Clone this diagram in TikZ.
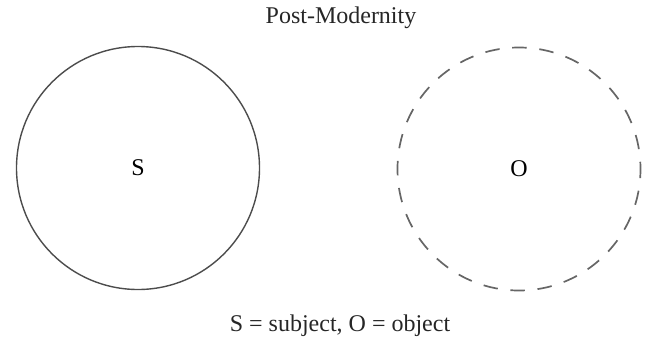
\documentclass[tikz,border=0pt]{standalone}
\usepackage{fontspec}
\setmainfont{Liberation Serif}
\usetikzlibrary{positioning}

\begin{document}
\begin{tikzpicture}[
    x=1pt, y=-1pt,
    label/.style={
        font=\fontsize{24}{28}\selectfont,
        text=black!85,
        inner sep=0pt
    },
    subjectcircle/.style={
        draw=black!70,
        circle,
        line width=1.4pt,
        minimum size=243pt,
        inner sep=0pt,
        font=\fontsize{24}{28}\selectfont
    },
    objectcircle/.style={
        subjectcircle,
        draw=black!60,
        line width=1.7pt,
        dash pattern=on 14.5pt off 12.7pt,
        dash phase=7.25pt
    }
]
\useasboundingbox (0,0) rectangle (645,343);

% Nodes
\node[label] (title) at (341,18) {Post-Modernity};
\node[subjectcircle] (subject) at (138,168) {S};
\node[objectcircle] (object) at (519,169) {O};
\node[label] (legend) at (340,326) {S = subject, O = object};

\end{tikzpicture}
\end{document}
